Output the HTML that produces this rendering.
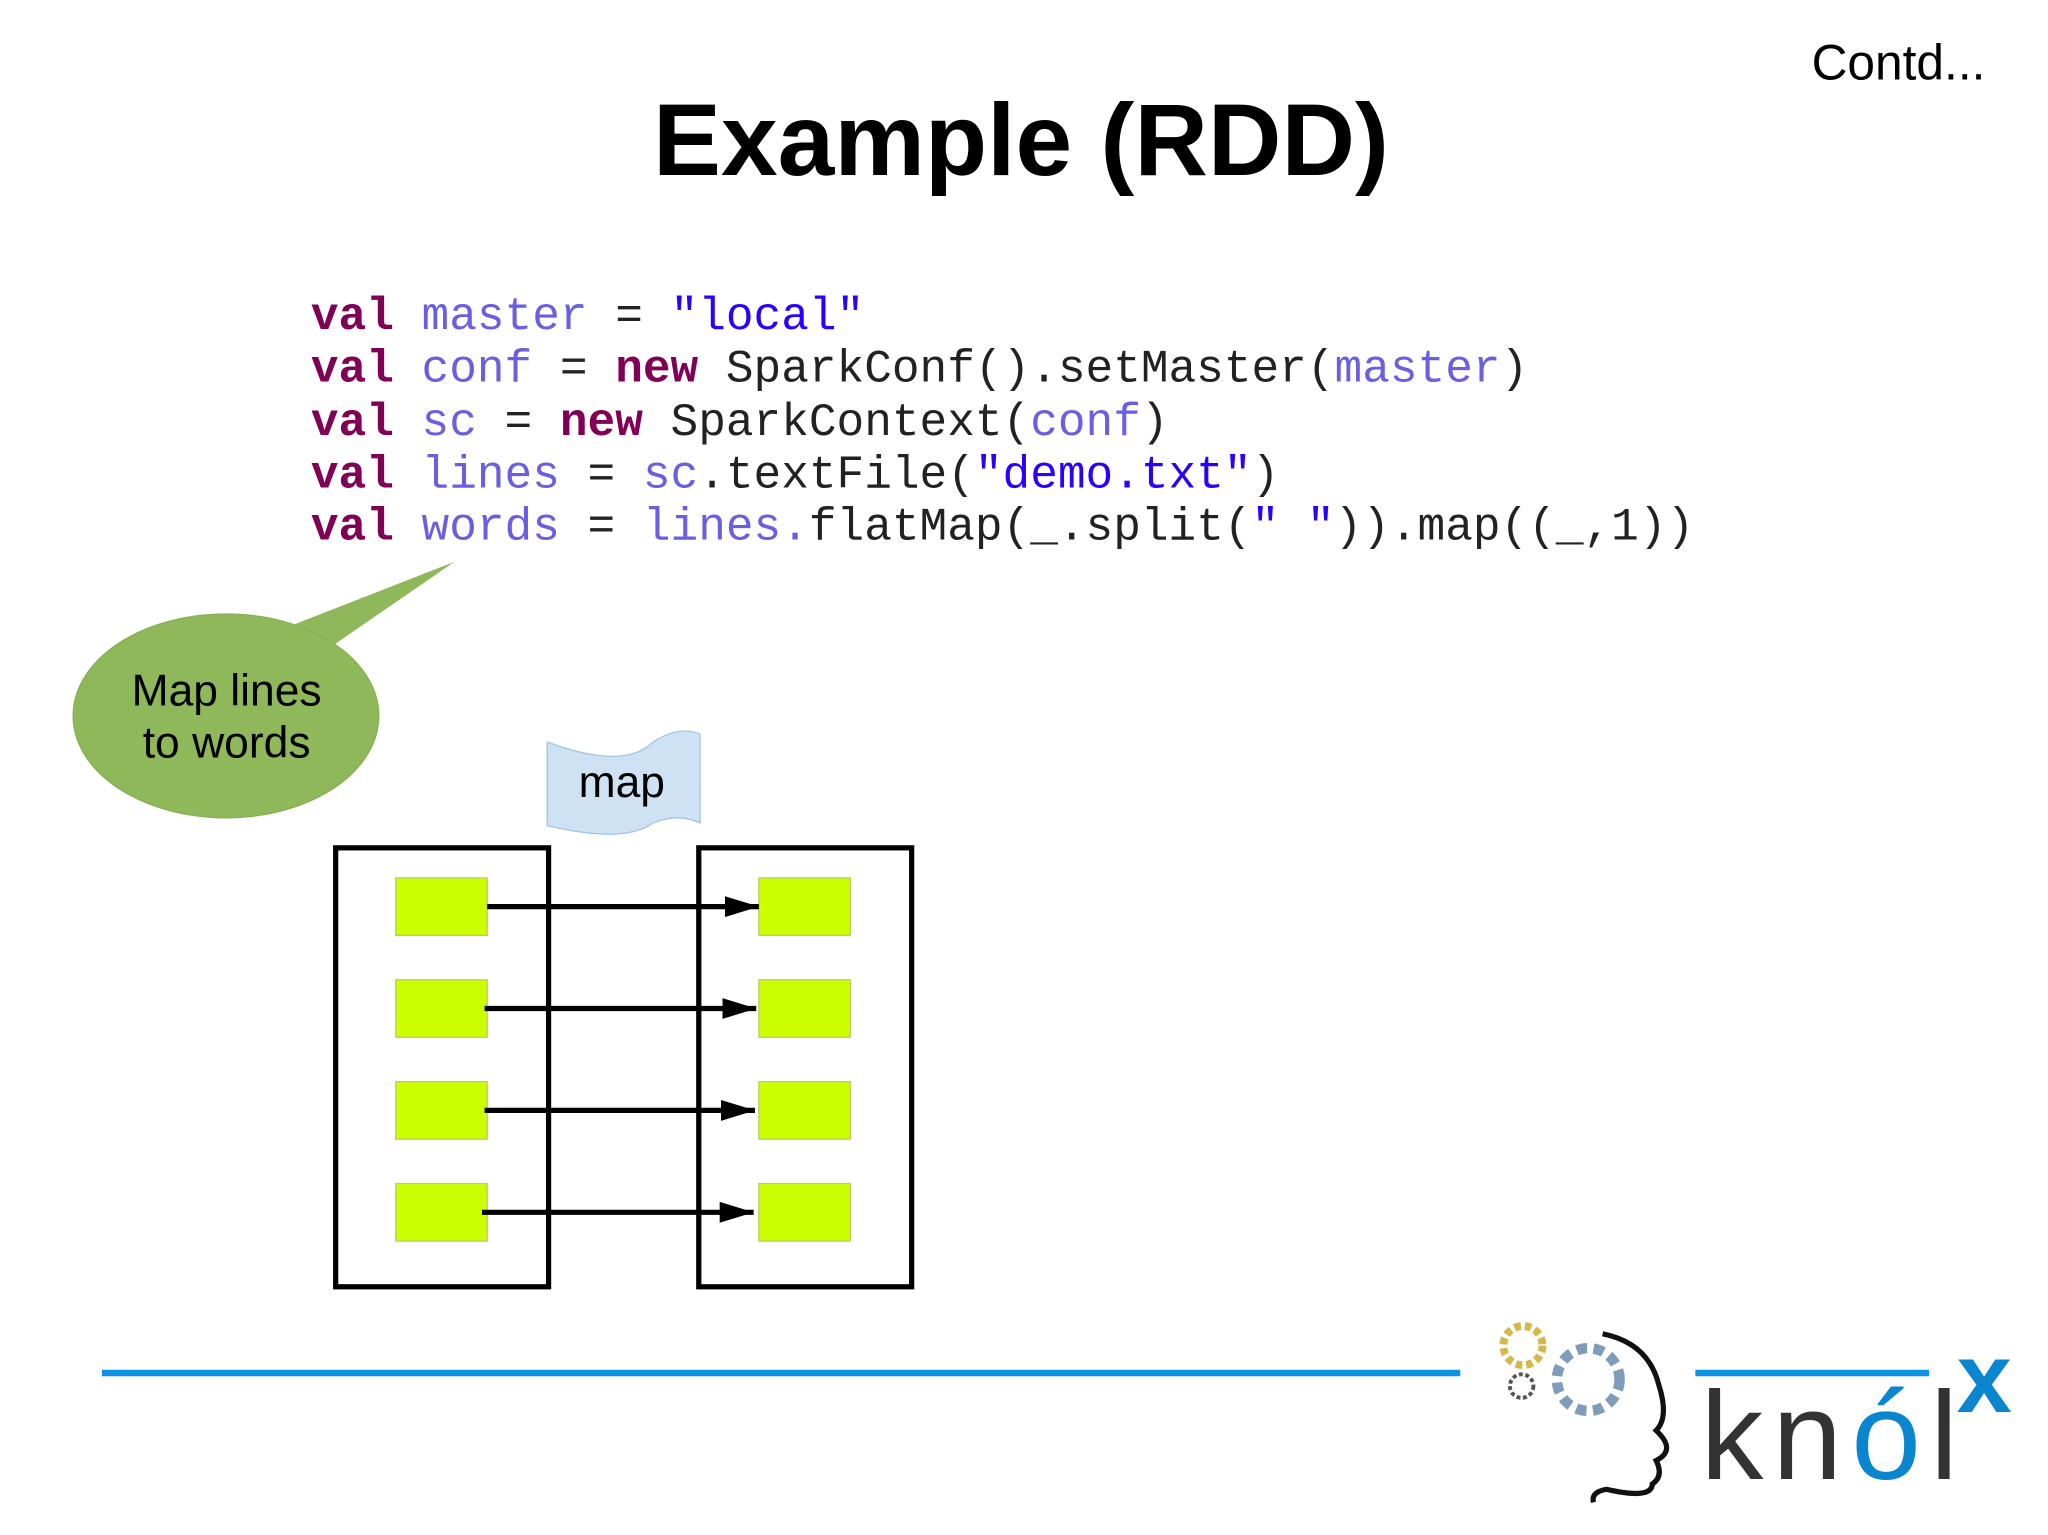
<!DOCTYPE html>
<html><head><meta charset="utf-8"><style>
html,body{margin:0;padding:0;background:#fff;}
body{width:2048px;height:1535px;overflow:hidden;position:relative;}
#s{position:absolute;left:0;top:0;width:1568px;height:1175px;transform:scale(1.30612,1.30638);transform-origin:0 0;font-family:"Liberation Sans",sans-serif;}
.t{position:absolute;white-space:pre;}
.code{position:absolute;left:238px;font-family:"Liberation Mono",monospace;font-size:35.3px;color:#222;white-space:pre;line-height:40.3px;}
.k{color:#7f0055;font-weight:bold}.v{color:#6a5fe0}.s{color:#2a00ff}
</style></head><body><div id="s">
<div class="t" style="left:1387px;top:28px;font-size:38px;">Contd...</div>
<div class="t" style="left:500px;top:62px;font-size:78px;font-weight:bold;">Example (RDD)</div>
<div class="code" style="top:223px;"><span class="k">val</span> <span class="v">master</span> = <span class="s">"local"</span>
<span class="k">val</span> <span class="v">conf</span> = <span class="k">new</span> SparkConf().setMaster(<span class="v">master</span>)
<span class="k">val</span> <span class="v">sc</span> = <span class="k">new</span> SparkContext(<span class="v">conf</span>)
<span class="k">val</span> <span class="v">lines</span> = <span class="v">sc</span>.textFile(<span class="s">"demo.txt"</span>)
<span class="k">val</span> <span class="v">words</span> = <span class="v">lines.</span>flatMap(_.split(<span class="s">" "</span>)).map((_,1))</div>
<svg width="1568" height="1175" style="position:absolute;left:0;top:0" xmlns="http://www.w3.org/2000/svg">
<defs><marker id="b" markerWidth="26" markerHeight="16" refX="26" refY="8" orient="auto" markerUnits="userSpaceOnUse"><path d="M0,0L26,8L0,16z" fill="#000"/></marker></defs>
<path d="M215,482 L348,430 L255,494 Z" fill="#8fb85a"/>
<ellipse cx="173" cy="548" rx="117" ry="78" fill="#8fb85a" stroke="#86b050"/>
<path d="M419,568 Q478,590 500,568 Q520,555 536,562 L536,630 Q520,622 500,630 Q478,646 419,632 Z" fill="#cfe2f3" stroke="#9fc5e8"/>
<rect x="257" y="649" width="163" height="336" fill="none" stroke="#000" stroke-width="4"/>
<rect x="535" y="649" width="163" height="336" fill="none" stroke="#000" stroke-width="4"/>
<g fill="#ccff00" stroke="#b5d060">
<rect x="303" y="672" width="70" height="44"/><rect x="303" y="750" width="70" height="44"/><rect x="303" y="828" width="70" height="44"/><rect x="303" y="906" width="70" height="44"/>
<rect x="581" y="672" width="70" height="44"/><rect x="581" y="750" width="70" height="44"/><rect x="581" y="828" width="70" height="44"/><rect x="581" y="906" width="70" height="44"/></g>
<g stroke="#000" stroke-width="4">
<line x1="373" y1="694" x2="581" y2="694" marker-end="url(#b)"/>
<line x1="371" y1="772" x2="579" y2="772" marker-end="url(#b)"/>
<line x1="371" y1="850" x2="578" y2="850" marker-end="url(#b)"/>
<line x1="369" y1="928" x2="577" y2="928" marker-end="url(#b)"/></g>
<line x1="78" y1="1051" x2="1118" y2="1051" stroke="#0d93e6" stroke-width="5"/>
<line x1="1298" y1="1051" x2="1477" y2="1051" stroke="#0d93e6" stroke-width="5"/>
<circle cx="1166" cy="1030" r="15" fill="none" stroke="#d4b94a" stroke-width="6" stroke-dasharray="5 3"/>
<circle cx="1216" cy="1056" r="24" fill="none" stroke="#7f9cb8" stroke-width="8" stroke-dasharray="8 5"/>
<circle cx="1165" cy="1061" r="9" fill="none" stroke="#555" stroke-width="3" stroke-dasharray="3 2"/>
<path d="M1227,1021 Q1262,1028 1270,1060 Q1278,1085 1268,1095 Q1284,1110 1268,1118 Q1274,1130 1265,1136 Q1265,1148 1230,1140 Q1218,1142 1220,1150" fill="none" stroke="#111" stroke-width="4"/>
</svg>
<div class="t" style="left:0;width:347px;text-align:center;top:509px;font-size:34px;line-height:40px;">Map lines
to words</div>
<div class="t" style="left:443px;top:580px;font-size:34px;">map</div>
<div class="t" style="left:1302px;top:1052px;font-size:96px;color:#333;line-height:96px;letter-spacing:7px;">kn<span style="color:#0a86d0">ó</span>l</div>
<div class="t" style="left:1498px;top:1018px;font-size:76px;font-weight:bold;color:#0a86d0;line-height:76px;">x</div>
</div></body></html>
